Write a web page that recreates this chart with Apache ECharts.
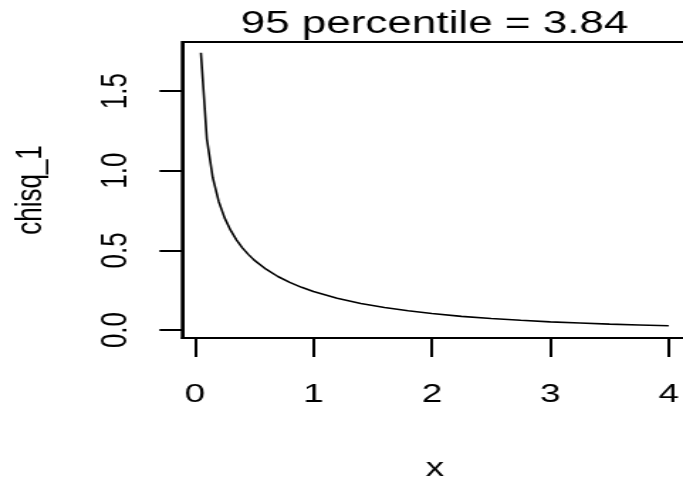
<!DOCTYPE html>
<html>
<head>
<meta charset="utf-8">
<script src="https://cdn.jsdelivr.net/npm/echarts@6/dist/echarts.min.js"></script>
<style>
  html, body { margin: 0; padding: 0; overflow: hidden; background: #fff; }
  /* the reference is an R plot stretched sideways (480 -> 683), so draw narrow and stretch */
  #main { width: 481px; height: 480px; transform: scaleX(1.42); transform-origin: 0 0; }
</style>
</head>
<body>
<div id="main"></div>
<script>
// x values and chisq_1 density
var xs = [0.05, 0.1, 0.15, 0.2, 0.25, 0.3, 0.35, 0.4, 0.45, 0.5,
          0.6, 0.7, 0.8, 0.9, 1.0, 1.2, 1.4, 1.6, 1.8, 2.0,
          2.25, 2.5, 2.75, 3.0, 3.25, 3.5, 3.75, 4.0];
var ys = [1.740, 1.200, 0.956, 0.807, 0.704, 0.627, 0.566, 0.516, 0.475, 0.439,
          0.382, 0.336, 0.299, 0.268, 0.242, 0.200, 0.167, 0.142, 0.121, 0.104,
          0.086, 0.072, 0.061, 0.051, 0.044, 0.037, 0.032, 0.027];
var xTicks = [0, 1, 2, 3, 4];
var yTicks = [0, 0.5, 1, 1.5];
var yTickLabels = ['0.0', '0.5', '1.0', '1.5'];

var pts = [];
for (var i = 0; i < xs.length; i++) {
    pts.push([xs[i], ys[i]]);
}

var myChart = echarts.init(document.getElementById('main'));
var font = 'Liberation Sans';

myChart.setOption({
    animation: false,
    title: {
        text: '95 percentile = 3.84',
        left: 301,
        textAlign: 'center',
        top: 4,
        textStyle: { fontFamily: font, fontSize: 31, fontWeight: 'normal', color: '#000' }
    },
    grid: {
        left: 128.3, top: 42, width: 355.8, height: 296,
        outerBoundsMode: 'none',   // v6 would otherwise shrink the grid to fit the names
        show: true, borderColor: '#000', borderWidth: 2
    },
    xAxis: {
        type: 'value',
        min: -0.108, max: 4.158,
        name: 'x',
        nameLocation: 'middle',
        nameGap: 118,
        nameTextStyle: { fontFamily: font, fontSize: 26, color: '#000' },
        splitLine: { show: false },
        axisLine: { show: true, onZero: false, lineStyle: { color: '#000', width: 2 } },
        axisTick: { show: true, length: 19, customValues: xTicks, lineStyle: { color: '#000', width: 2 } },
        axisLabel: {
            customValues: xTicks,
            margin: 44,
            fontFamily: font, fontSize: 26, color: '#000'
        }
    },
    yAxis: {
        type: 'value',
        min: -0.05, max: 1.808,
        name: 'chisq_1',
        nameLocation: 'middle',
        nameRotate: 90,
        nameGap: 93,
        nameTextStyle: { fontFamily: font, fontSize: 26, color: '#000' },
        splitLine: { show: false },
        axisLine: { show: true, onZero: false, lineStyle: { color: '#000', width: 2 } },
        axisTick: { show: true, length: 16, customValues: yTicks, lineStyle: { color: '#000', width: 2 } },
        axisLabel: {
            customValues: yTicks,
            rotate: 90,
            margin: 33,
            fontFamily: font, fontSize: 26, color: '#000',
            formatter: function (v) {
                var k = yTicks.indexOf(v);
                return k >= 0 ? yTickLabels[k] : '';
            }
        }
    },
    series: [{
        type: 'line',
        data: pts,
        showSymbol: false,
        smooth: false,
        lineStyle: { color: '#000', width: 1.6 }
    }]
});
</script>
</body>
</html>
